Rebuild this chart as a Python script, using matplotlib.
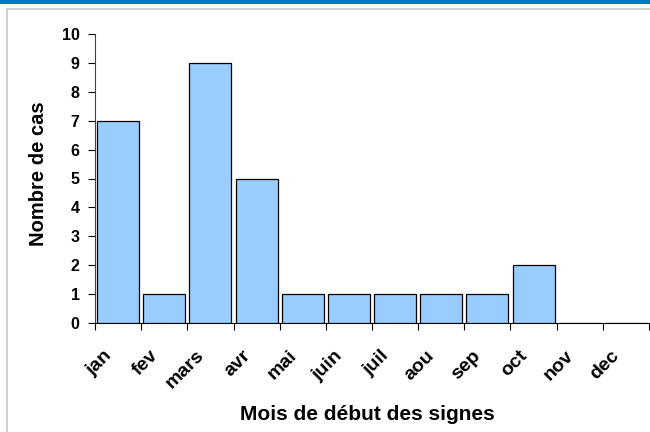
import matplotlib.pyplot as plt
from matplotlib.patches import Rectangle
import numpy as np

plt.rcParams['font.family'] = ['Liberation Sans', 'DejaVu Sans']
plt.rcParams['font.weight'] = 'bold'

months = ["jan", "fev", "mars", "avr", "mai", "juin", "juil", "aou", "sep", "oct", "nov", "dec"]
cases = [7, 1, 9, 5, 1, 1, 1, 1, 1, 2, 0, 0]

fig = plt.figure(figsize=(6.5, 4.32), dpi=100)

# blue strip on top and grey frame around the chart area
fig.add_artist(Rectangle((0, 1 - 4 / 432), 1, 4 / 432, transform=fig.transFigure,
                         facecolor="#0a78c8", edgecolor="none"))
fig.add_artist(Rectangle((7 / 650, -0.01), 1, 1 - 9 / 432 + 0.01, transform=fig.transFigure,
                         facecolor="none", edgecolor="#c8c8c8", linewidth=1.2))

ax = fig.add_axes([95 / 650, 1 - 323 / 432, 554 / 650, 289 / 432])
x = np.arange(len(months))
ax.bar(x, cases, width=0.91, color="#99ccff", edgecolor="black", linewidth=0.9, zorder=3)

ax.set_xlim(-0.5, len(months) - 0.5)
ax.set_ylim(0, 10)
ax.set_yticks(range(0, 11))
ax.set_yticklabels([str(v) for v in range(0, 11)], fontweight="bold", fontsize=11.5)
ax.set_xticks(np.arange(-0.5, len(months) + 0.5, 1))
ax.set_xticklabels([])
ax.tick_params(axis="x", which="major", length=5, direction="out")
ax.tick_params(axis="y", length=5, direction="out", pad=6)

# month names, rotated and hanging below each category
for i, m in enumerate(months):
    ax.annotate(m, xy=(i, 0), xycoords=("data", "axes fraction"),
                xytext=(-9, -30), textcoords="offset pixels",
                rotation=45, rotation_mode="anchor", ha="right", va="center",
                fontsize=14, fontweight="bold")

for s in ["top", "right"]:
    ax.spines[s].set_visible(False)
ax.spines["left"].set_color("#404040")

ax.set_ylabel("Nombre de cas", fontsize=14.5, fontweight="bold")
ax.set_xlabel("Mois de début des signes", fontsize=15, fontweight="bold")
ax.yaxis.set_label_coords(-(95 - 38) / 554, (323 - 174) / 289)
ax.xaxis.set_label_coords((367 - 95) / 554, -(414 - 323) / 289)
ax.xaxis.label.set_va("center")
ax.yaxis.label.set_va("center")

fig.savefig("out.png", dpi=100)
